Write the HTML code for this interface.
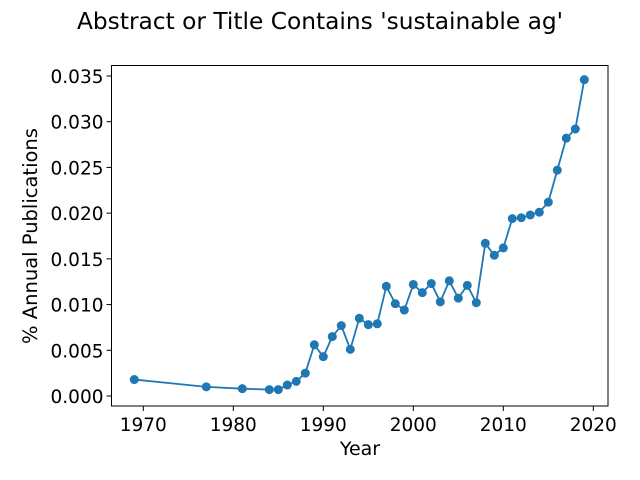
<!DOCTYPE html>
<html><head><meta charset="utf-8"><style>
html,body{margin:0;padding:0;background:#fff;}
svg{display:block;font-family:"DejaVu Sans","Liberation Sans",sans-serif;}
</style></head><body>
<svg id="chart" width="640" height="480">
<text x="320" y="29" text-anchor="middle" font-size="23.3" fill="#000">Abstract or Title Contains 'sustainable ag'</text>
<g id="plot"></g>
<text x="360" y="455" text-anchor="middle" font-size="19">Year</text>
<text transform="translate(37,236) rotate(-90)" text-anchor="middle" font-size="19.5">% Annual Publications</text>
</svg>
<script>
const years=[1969,1977,1981,1984,1985,1986,1987,1988,1989,1990,1991,1992,1993,1994,1995,1996,1997,1998,1999,2000,2001,2002,2003,2004,2005,2006,2007,2008,2009,2010,2011,2012,2013,2014,2015,2016,2017,2018,2019];
const values=[0.0018,0.0010,0.0008,0.0007,0.0007,0.0012,0.0016,0.0025,0.0056,0.0043,0.0065,0.0077,0.0051,0.0085,0.0078,0.0079,0.0120,0.0101,0.0094,0.0122,0.0113,0.0123,0.0103,0.0126,0.0107,0.0121,0.0102,0.0167,0.0154,0.0162,0.0194,0.0195,0.0198,0.0201,0.0212,0.0247,0.0282,0.0292,0.0346];
const xTicks=[1970,1980,1990,2000,2010,2020];
const yTicks=[0,0.005,0.010,0.015,0.020,0.025,0.030,0.035];
const yTickLabels=["0.000","0.005","0.010","0.015","0.020","0.025","0.030","0.035"];

const L=111.5,R=608,T=65.5,B=406;
const x=v=>143.3+(v-1970)*9.0;
const y=v=>396-v*9143;
const NS="http://www.w3.org/2000/svg";
const g=document.getElementById('plot');
function mk(t,a){const e=document.createElementNS(NS,t);for(const k in a)e.setAttribute(k,a[k]);g.appendChild(e);return e;}
xTicks.forEach(t=>{
  const l=mk('line',{x1:x(t),x2:x(t),y1:B,y2:B+5,stroke:'#000','stroke-width':1});
  
  
  const tx=mk('text',{x:x(t),y:B+25,'text-anchor':'middle','font-size':18.5});
  tx.textContent=t;
  
  
});
yTicks.forEach((t,i)=>{
  const l=mk('line',{x1:L-5,x2:L,y1:y(t),y2:y(t),stroke:'#000','stroke-width':1});
  
  
  const tx=mk('text',{x:L-8,y:y(t)+7,'text-anchor':'end','font-size':18.5});
  tx.textContent=yTickLabels[i];
  
  
});
const pl=mk('polyline',{points:years.map((yr,i)=>x(yr)+','+y(values[i])).join(' '),fill:'none',stroke:'#1f77b4','stroke-width':1.8});


years.forEach((yr,i)=>{
  const c=mk('circle',{cx:x(yr),cy:y(values[i]),r:4.5,fill:'#1f77b4'});
  
  
});
const fr=mk('rect',{x:L,y:T,width:R-L,height:B-T,fill:'none',stroke:'#000','stroke-width':1});


</script>
</body></html>
